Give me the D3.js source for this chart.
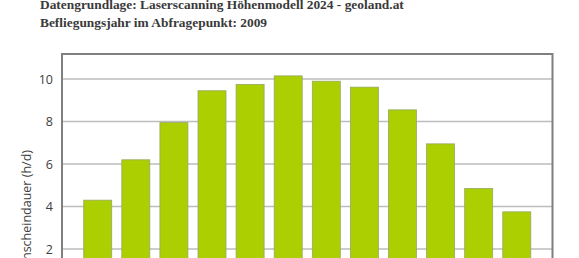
<!DOCTYPE html>
<html>
<head>
<meta charset="utf-8">
<script src="https://cdn.jsdelivr.net/npm/d3@7"></script>
<style>
  html, body { margin: 0; padding: 0; background: #fff; }
  svg { display: block; }
  .hdr { font-family: "Liberation Serif", "DejaVu Serif", serif; font-weight: bold; font-size: 13.4px; fill: #3a3a3a; }
  .tick text { font-family: "Open Sans", "Liberation Sans", sans-serif; font-size: 12.5px; fill: #404040; }
  .ylab { font-family: "Open Sans", "Liberation Sans", sans-serif; font-size: 12.5px; fill: #404040; }
</style>
</head>
<body>
<svg id="chart" width="579" height="258"></svg>
<script>
// monthly mean sunshine duration (h/d)
const months = ['Jän', 'Feb', 'Mär', 'Apr', 'Mai', 'Jun', 'Jul', 'Aug', 'Sep', 'Okt', 'Nov', 'Dez'];
const hours = [4.3, 6.2, 7.95, 9.45, 9.75, 10.15, 9.9, 9.62, 8.55, 6.95, 4.85, 3.75];
const yTicks = [0, 2, 4, 6, 8, 10];
const headerLines = [
  'Datengrundlage: Laserscanning Höhenmodell 2024 - geoland.at',
  'Befliegungsjahr im Abfragepunkt: 2009'
];
const yLabel = 'Sonnenscheindauer (h/d)';

const svg = d3.select('#chart');

// plot frame (bottom lies below the visible window)
const plotL = 62, plotR = 552.5, plotT = 54, plotB = 291.5;

const x = d3.scaleBand()
  .domain(months)
  .range([plotL, plotR])
  .paddingInner(0.265)
  .paddingOuter(0.57);

const y = d3.scaleLinear()
  .domain([0, 11.18])
  .range([plotB, plotT]);

// header text
svg.selectAll('text.hdr')
  .data(headerLines)
  .join('text')
  .attr('class', 'hdr')
  .attr('x', 40)
  .attr('y', (d, i) => 9 + i * 17.8)
  .text(d => d);

// gridlines
svg.append('g')
  .selectAll('line')
  .data(yTicks.filter(d => d > 0))
  .join('line')
  .attr('x1', plotL).attr('x2', plotR)
  .attr('y1', d => y(d)).attr('y2', d => y(d))
  .attr('stroke', '#bdbdbd')
  .attr('stroke-width', 1.5);

// bars
svg.append('g')
  .selectAll('rect')
  .data(hours)
  .join('rect')
  .attr('x', (d, i) => x(months[i]))
  .attr('y', d => y(d))
  .attr('width', x.bandwidth())
  .attr('height', d => y(0) - y(d))
  .attr('fill', '#abcf00')
  .attr('stroke', '#95a866')
  .attr('stroke-width', 0.8);

// frame
svg.append('path')
  .attr('d', `M${plotL},${plotB + 20}V${plotT}H${plotR}V${plotB + 20}`)
  .attr('fill', 'none')
  .attr('stroke', '#7f7f7f')
  .attr('stroke-width', 2);

// y axis labels
const yAxis = svg.append('g')
  .attr('transform', `translate(${plotL},0)`)
  .call(d3.axisLeft(y).tickValues(yTicks).tickSize(0).tickPadding(9));
yAxis.select('.domain').remove();

svg.append('text')
  .attr('class', 'ylab')
  .attr('transform', 'translate(31,150) rotate(-90)')
  .attr('text-anchor', 'end')
  .text(yLabel);
</script>
</body>
</html>
